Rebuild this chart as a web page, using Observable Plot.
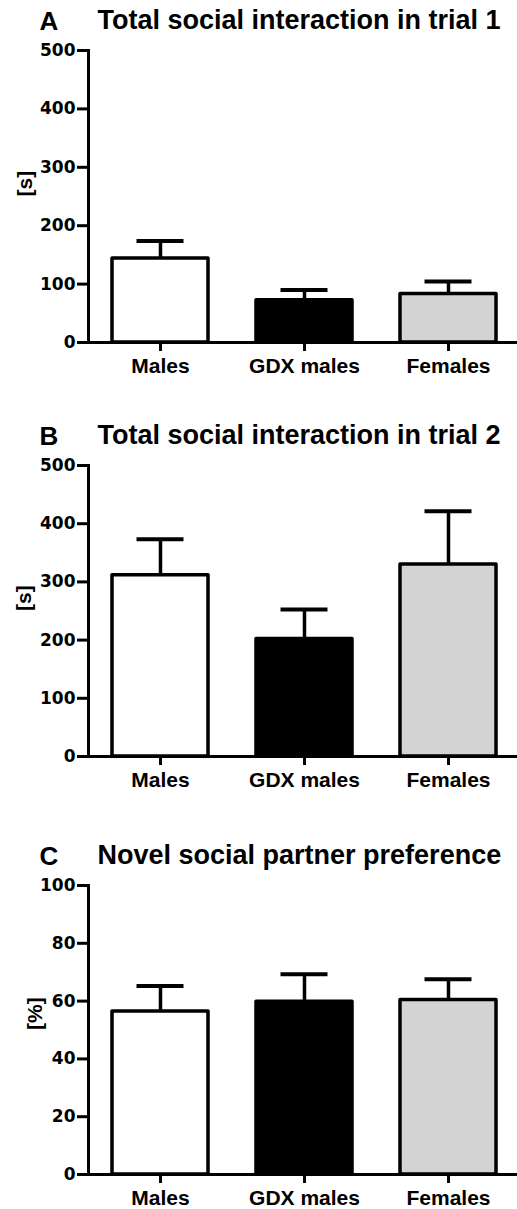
<!DOCTYPE html>
<html><head><meta charset="utf-8">
<script src="https://cdn.jsdelivr.net/npm/d3@7"></script>
<script src="https://cdn.jsdelivr.net/npm/@observablehq/plot@0.6"></script>
<style>
body{margin:0;background:#fff;overflow:hidden}
#root{position:relative;width:517px;height:1209px;background:#fff}
.panel{position:absolute;left:0}
</style></head><body><div id="root"></div>
<script>
const groups = ["Males", "GDX males", "Females"];
const fills = ["#ffffff", "#000000", "#d3d3d3"];

const meanA = [143.8, 72.4, 83.2];
const upperA = [173.8, 90.0, 104.4];
const meanB = [311.6, 201.7, 329.7];
const upperB = [373.3, 252.4, 421.6];
const meanC = [56.4, 59.8, 60.4];
const upperC = [65.2, 69.3, 67.6];

const ticksS = [0, 100, 200, 300, 400, 500];
const ticksP = [0, 20, 40, 60, 80, 100];

const panels = [
  {letter: "A", title: "Total social interaction in trial 1", yLabel: "[s]", mean: meanA, upper: upperA, domain: [0, 500], ticks: ticksS, top: 0, frameH: 292, labelDx: -63},
  {letter: "B", title: "Total social interaction in trial 2", yLabel: "[s]", mean: meanB, upper: upperB, domain: [0, 500], ticks: ticksS, top: 415, frameH: 291, labelDx: -64},
  {letter: "C", title: "Novel social partner preference", yLabel: "[%]", mean: meanC, upper: upperC, domain: [0, 100], ticks: ticksP, top: 835, frameH: 289, labelDx: -53}
];

const root = document.getElementById("root");
const MT = 50, MB = 35, ML = 88;

for (const p of panels) {
  const data = groups.map((g, i) => ({group: g, mean: p.mean[i], upper: p.upper[i], fill: fills[i]}));
  const chart = Plot.plot({
    width: 517,
    height: MT + p.frameH + MB,
    marginLeft: ML, marginRight: 0, marginTop: MT, marginBottom: MB,
    style: {fontFamily: "Liberation Sans, Arial, sans-serif", background: "white", color: "black"},
    x: {type: "band", domain: groups, range: [88, 520], paddingInner: 1/3, paddingOuter: 1/6, axis: null},
    y: {domain: p.domain, axis: null},
    color: {type: "identity"},
    marks: [
      Plot.ruleX(data, {x: "group", y1: "mean", y2: "upper", stroke: "black", strokeWidth: 3.5}),
      Plot.tickY(data, {x: "group", y: "upper", stroke: "black", strokeWidth: 4, insetLeft: 24.5, insetRight: 24.5}),
      Plot.barY(data, {x: "group", y: "mean", fill: "fill", stroke: "black", strokeWidth: 3.5, strokeLinejoin: "round"}),
      Plot.axisY({ticks: p.ticks, tickSize: 11, tickPadding: 2, strokeWidth: 3, fontFamily: "DejaVu Sans", fontWeight: "bold", fontSize: 17, label: null, tickFormat: d => String(d)}),
      Plot.axisX({tickSize: 9, tickPadding: 7, strokeWidth: 3, fontSize: 21, fontWeight: "bold", label: null}),
      Plot.ruleY([0], {stroke: "black", strokeWidth: 3}),
      Plot.frame({anchor: "left", stroke: "black", strokeWidth: 3}),
      Plot.text([p.yLabel], {frameAnchor: "left", dx: p.labelDx, rotate: -90, fontSize: 21, fontWeight: "bold", fill: "black"}),
      Plot.text([p.letter], {frameAnchor: "top-left", dx: -49, dy: -21, lineAnchor: "bottom", textAnchor: "start", fontSize: 26, fontWeight: "bold", fill: "black"}),
      Plot.text([p.title], {frameAnchor: "top-left", dx: 9, dy: -22, lineAnchor: "bottom", textAnchor: "start", fontSize: 27, fontWeight: "bold", fill: "black"})
    ]
  });
  chart.classList.add("panel");
  chart.style.top = p.top + "px";
  root.appendChild(chart);
}
</script></body></html>
